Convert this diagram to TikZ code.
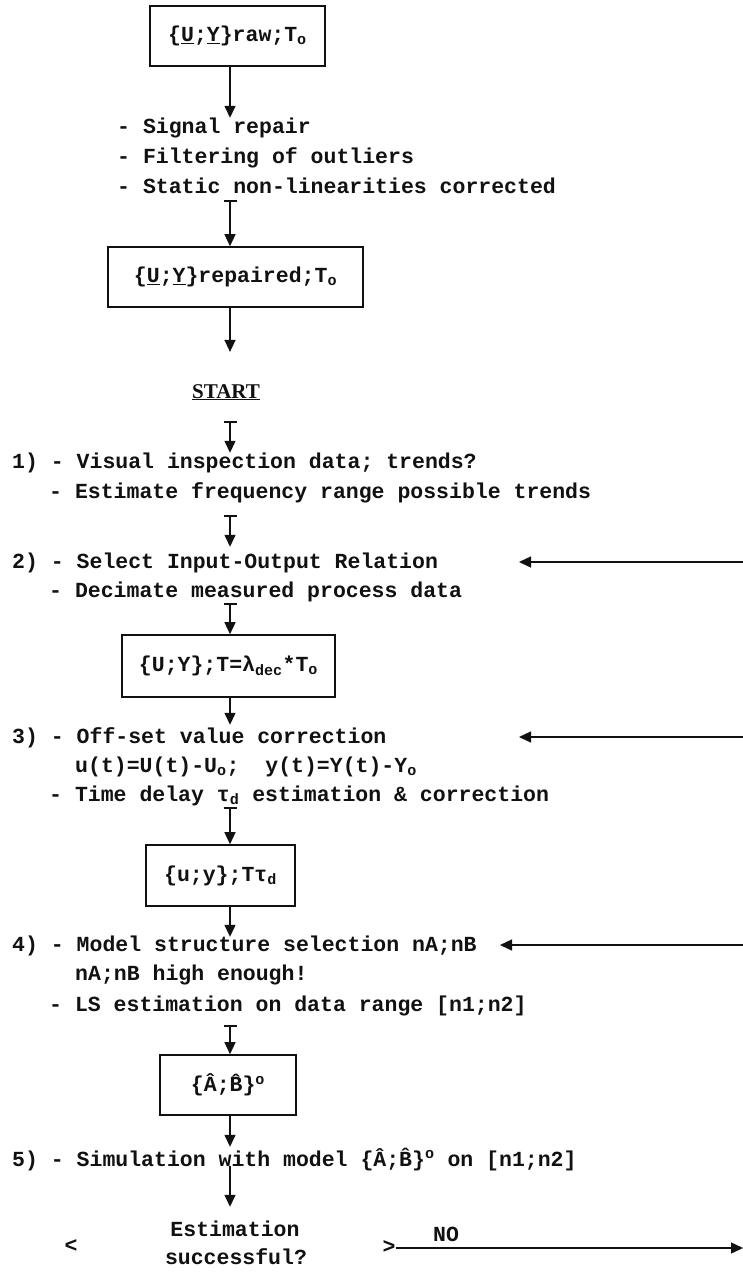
\documentclass[tikz,border=0pt]{standalone}
\usepackage{fontspec}
\setmainfont{Liberation Serif}
\setmonofont{Liberation Mono}
\usepackage{tikz}
\usetikzlibrary{positioning, arrows.meta, calc}
\definecolor{inkblack}{HTML}{111111}

\tikzset{
  flowtext/.style={anchor=base west, inner sep=0pt, text height=14pt, text depth=6pt,
    font=\ttfamily\bfseries\fontsize{21.5}{29}\selectfont, text=inkblack},
  flowbox/.style={draw=inkblack, line width=1.6pt, inner sep=0pt,
    font=\ttfamily\bfseries\fontsize{21.5}{29}\selectfont, text=inkblack},
  flowarrow/.style={-{Triangle[length=12pt,width=11pt]}, line width=1.4pt, draw=inkblack},
  teearrow/.style={{Bar[width=13pt,line width=1.4pt]}-{Triangle[length=12pt,width=11pt]},
    line width=1.4pt, draw=inkblack},
}

\begin{document}
\begin{tikzpicture}[x=1pt, y=1pt]
  \useasboundingbox (0,0) rectangle (743,-1273);
  \coordinate (axis) at (230,0);

  % raw data and repair
  \node[flowbox, minimum width=175pt, minimum height=60pt] (raw) at (237.5,-36)
    {\{\underline{U};\underline{Y}\}raw;T\textsubscript{o}};
  \node[flowtext] (sig) at (117,-134) {- Signal repair};
  \node[flowtext] (filt) at (117,-164) {- Filtering of outliers};
  \node[flowtext] (stat) at (117,-194) {- Static non-linearities corrected};
  \node[flowbox, minimum width=255pt, minimum height=60pt] (rep) at (235.5,-277)
    {\{\underline{U};\underline{Y}\}repaired;T\textsubscript{o}};
  \node[anchor=base, inner sep=0pt, font=\bfseries\fontsize{21}{24}\selectfont,
        text=inkblack] (start) at (226,-398) {\underline{START}};

  % steps 1 and 2
  \node[flowtext] (s1a) at (12,-468) {1) - Visual inspection data; trends?};
  \node[flowtext] (s1b) at (49,-498) {- Estimate frequency range possible trends};
  \node[flowtext] (s2a) at (12,-568) {2) - Select Input-Output Relation};
  \node[flowtext] (s2b) at (49,-597) {- Decimate measured process data};
  \node[flowbox, minimum width=213pt, minimum height=62pt] (decim) at (228.5,-666)
    {\{U;Y\};T=λ\textsubscript{dec}*T\textsubscript{o}};

  % step 3
  \node[flowtext] (s3a) at (12,-743) {3) - Off-set value correction};
  \node[flowtext] (s3b) at (75,-772)
    {u(t)=U(t)-U\textsubscript{o};\ \ y(t)=Y(t)-Y\textsubscript{o}};
  \node[flowtext] (s3c) at (49,-801)
    {- Time delay τ\textsubscript{d} estimation \& correction};
  \node[flowbox, minimum width=149pt, minimum height=61pt] (shifted) at (220.5,-875.5)
    {\{u;y\};Tτ\textsubscript{d}};

  % step 4
  \node[flowtext] (s4a) at (12,-951) {4) - Model structure selection nA;nB};
  \node[flowtext] (s4b) at (75,-980) {nA;nB high enough!};
  \node[flowtext] (s4c) at (49,-1011) {- LS estimation on data range [n1;n2]};
  \node[flowbox, minimum width=136pt, minimum height=60pt] (model) at (228,-1085)
    {\{\^{A};\^{B}\}\textsuperscript{o}};

  % step 5 and decision
  \node[flowtext] (s5) at (12,-1166)
    {5) - Simulation with model \{\^{A};\^{B}\}\textsuperscript{o} on [n1;n2]};
  \node[flowtext, anchor=base] (est) at (235,-1236) {Estimation};
  \node[flowtext, anchor=base] (succ) at (236,-1264) {successful?};
  \node[flowtext, anchor=center] (lt) at (71,-1248) {<};
  \node[flowtext, anchor=center, text height=10pt, text depth=0pt] (gt) at (389,-1248) {>};
  \node[flowtext, anchor=base] (no) at (446,-1241) {NO};
  \coordinate (noexit) at (743,-1248);

  % feedback entries from the right
  \coordinate (fb2in) at (743,-562);
  \coordinate (fb2tip) at (519,-562);
  \coordinate (fb3in) at (743,-737);
  \coordinate (fb3tip) at (519,-737);
  \coordinate (fb4in) at (743,-945);
  \coordinate (fb4tip) at (500,-945);

  \draw[flowarrow, shorten >=2pt] (raw.south -| axis) -- (axis |- sig.north);
  \draw[teearrow] (axis |- stat.south) -- (rep.north -| axis);
  \draw[flowarrow, shorten >=32pt] (rep.south -| axis) -- (axis |- start.north);
  \draw[teearrow, shorten <=21pt, shorten >=1pt] (axis |- start.south) -- (axis |- s1a.north);
  \draw[teearrow, shorten <=11pt, shorten >=7pt] (axis |- s1b.south) -- (axis |- s2a.north);
  \draw[teearrow] (axis |- s2b.south) -- (decim.north -| axis);
  \draw[flowarrow, shorten >=4pt] (decim.south -| axis) -- (axis |- s3a.north);
  \draw[teearrow] (axis |- s3c.south) -- (shifted.north -| axis);
  \draw[flowarrow] (shifted.south -| axis) -- (axis |- s4a.north);
  \draw[teearrow, shorten <=8pt] (axis |- s4c.south) -- (model.north -| axis);
  \draw[flowarrow, shorten >=5pt] (model.south -| axis) -- (axis |- s5.north);
  \draw[flowarrow, shorten >=15pt] (axis |- s5.base) -- (axis |- est.north);
  \draw[flowarrow] (gt.east) -- (noexit);
  \draw[flowarrow] (fb2in) -- (fb2tip);
  \draw[flowarrow] (fb3in) -- (fb3tip);
  \draw[flowarrow] (fb4in) -- (fb4tip);
\end{tikzpicture}
\end{document}
